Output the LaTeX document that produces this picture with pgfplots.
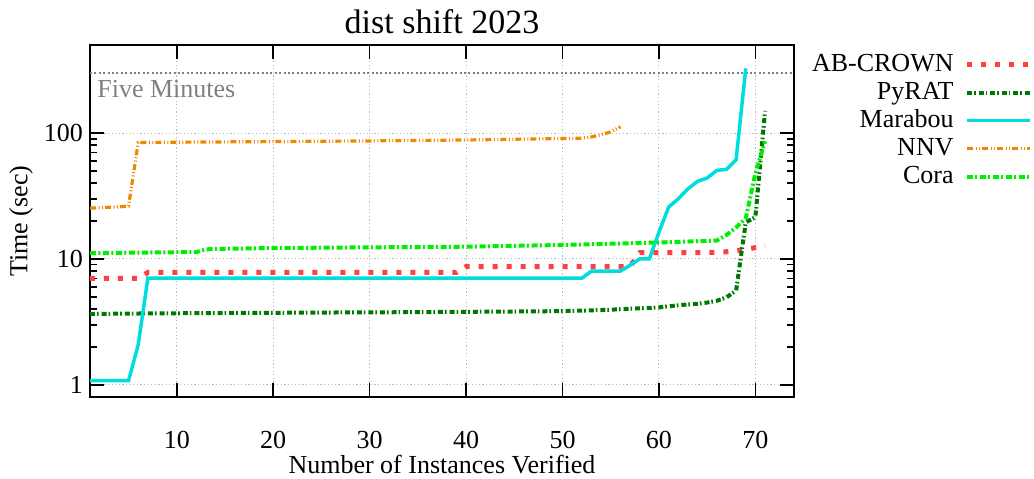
\documentclass[border=0pt]{standalone}
\usepackage{fontspec}
\setmainfont{Liberation Serif}
\usepackage{pgfplots}
\pgfplotsset{compat=1.18}
\definecolor{abcrown}{RGB}{255,64,64}
\definecolor{pyrat}{RGB}{0,120,0}
\definecolor{marabou}{RGB}{0,221,221}
\definecolor{nnv}{RGB}{238,136,0}
\definecolor{cora}{RGB}{0,238,0}
\begin{document}
\begin{tikzpicture}
\begin{axis}[
  scale only axis, width=352pt, height=176pt,
  xmin=1, xmax=74, ymode=log, ymin=0.8, ymax=500,
  xtick={10,20,...,70}, ytick={1,10,100},
  log ticks with fixed point,
  /pgf/number format/assume math mode=true,
  grid=major,
  major grid style={gray!55, line width=0.5pt, dash pattern=on 0.6pt off 1.2pt},
  tick align=inside, major tick length=7pt, minor tick length=3.5pt,
  axis line style={line width=1pt},
  every tick/.style={black, line width=0.8pt},
  tick label style={font=\fontsize{13}{15}\selectfont},
  xticklabel style={yshift=-13.5pt},
  title={dist shift 2023},
  title style={font=\fontsize{17}{20}\selectfont, yshift=-4pt},
  xlabel={Number of Instances Verified},
  xlabel style={at={(axis description cs:0.5,-0.163)}, anchor=north, inner sep=0pt, font=\fontsize{13}{15}\selectfont},
  ylabel={Time (sec)},
  ylabel style={at={(axis description cs:-0.098,0.5)}, anchor=center, font=\fontsize{13}{15}\selectfont},
  legend plot pos=right,
  legend cell align=right,
  legend image code/.code={\draw[#1] (0pt,0pt) -- (31.5pt,0pt);},
  legend style={draw=none, fill=none, inner sep=0pt,
    at={(axis description cs:1.3395,0.985)}, anchor=north east,
    font=\fontsize{13}{15}\selectfont, row sep=0pt, column sep=5pt,
    nodes={inner sep=0.5pt, text height=10pt, text depth=3pt}},
]
\coordinate (bl) at (rel axis cs:0,0);
\addplot[gray, line width=0.9pt, dash pattern=on 1pt off 1.2pt, forget plot] coordinates {(1,300) (74,300)};
\node[anchor=north west, text=gray, font=\fontsize{13}{15}\selectfont, inner sep=0pt] at (axis cs:1.72,300) [yshift=-3.5pt] {Five Minutes};

\addplot[abcrown, line width=2.5pt, line cap=butt, dash pattern=on 2.5pt off 4.5pt] coordinates {
(1,7.0) (2,7.0) (3,7.0) (4,7.0) (5,7.0) (6,7.0) (7,7.8) (8,7.8) (9,7.8) (10,7.8)
(15,7.8) (20,7.8) (25,7.8) (30,7.8) (35,7.8) (39,7.8) (40,8.7) (45,8.7) (50,8.7)
(55,8.7) (57,8.7) (58,11.2) (60,11.2) (62,11.2) (64,11.2) (66,11.3) (67,11.4)
(68,11.6) (69,11.9) (70,12.3) (71,12.7)};
\addlegendentry{AB-CROWN}

\addplot[pyrat, line width=2pt, dash pattern=on 2.5pt off 1pt on 0.8pt off 1.5pt] coordinates {
(1,3.65) (5,3.68) (10,3.70) (15,3.72) (20,3.73) (25,3.75) (30,3.76) (35,3.78) (40,3.80)
(45,3.82) (50,3.85) (53,3.90) (55,3.95) (57,4.02) (59,4.08) (60,4.12) (61,4.2)
(62,4.28) (63,4.35) (64,4.4) (65,4.5) (66,4.65) (67,4.95) (68,5.6) (69,19.5) (70,21.5) (71,150)};
\addlegendentry{PyRAT}

\addplot[marabou, line width=1.75pt] coordinates {
(1,1.08) (2,1.08) (3,1.08) (4,1.08) (5,1.08) (6,2.08) (7,7.03) (10,7.03) (20,7.03)
(30,7.03) (40,7.03) (50,7.03) (52,7.03) (53,8.0) (54,8.0) (55,8.0) (56,8.0) (57,8.9)
(58,10) (59,10) (60,16.3) (61,25.8) (62,30) (63,36) (64,41.3) (65,43.9) (66,50.5)
(67,51.4) (68,61.4) (69,326)};
\addlegendentry{Marabou}

\addplot[nnv, line width=1.6pt, dash pattern=on 3pt off 1.3pt on 0.5pt off 1.2pt on 0.5pt off 1pt] coordinates {
(1,25.3) (2,25.5) (3,25.7) (4,25.9) (5,26.3) (6,84) (10,84.5) (20,85.5) (30,86.5)
(40,88) (50,90.5) (52,91) (53,93) (54,97) (55,102) (56,112)};
\addlegendentry{NNV}

\addplot[cora, line width=2pt, dash pattern=on 3pt off 1.2pt on 1pt off 1.3pt] coordinates {
(1,11.1) (5,11.2) (10,11.3) (12,11.3) (13,11.9) (14,12.0) (20,12.2) (30,12.35)
(40,12.5) (50,12.9) (55,13.2) (60,13.5) (65,13.9) (66,14.0) (67,15.5) (68,17.8)
(69,21) (70,48) (71,86)};
\addlegendentry{Cora}
\end{axis}
\pgfresetboundingbox
\path[use as bounding box] ([xshift=-45pt,yshift=-40.5pt]bl) rectangle ([xshift=472pt,yshift=198.5pt]bl);
\end{tikzpicture}
\end{document}
